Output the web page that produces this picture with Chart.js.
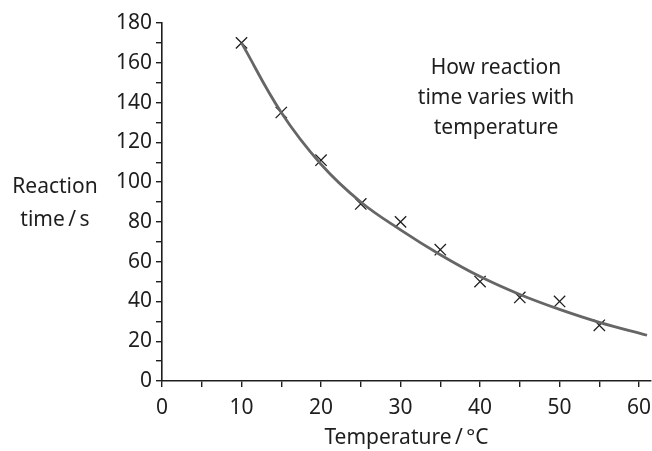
<!DOCTYPE html>
<html lang="en">
<head>
    <script src="https://cdn.jsdelivr.net/npm/chart.js"></script>
    <style>
        body { margin: 0; background: #fff; }
    </style>
</head>
<body>

    <canvas id="reactionChart" width="652" height="451"></canvas>

    <script>
        // measured points (x marks)
        const temps = [10, 15, 20, 25, 30, 35, 40, 45, 50, 55];
        const times = [170, 135, 111, 89, 80, 66, 50, 42, 40, 28];

        // best-fit curve
        const curveTemps = [10, 15, 20, 25, 30, 35, 40, 45, 50, 55, 61];
        const curveTimes = [170, 135, 109, 90, 76, 63.5, 52.5, 43.5, 36, 29.5, 23];

        // tick positions (labels only on every other one)
        const xTickValues = [0, 5, 10, 15, 20, 25, 30, 35, 40, 45, 50, 55, 60];
        const yTickValues = [0, 10, 20, 30, 40, 50, 60, 70, 80, 90, 100, 110, 120, 130, 140, 150, 160, 170, 180];

        const titleLines = ["How reaction", "time varies with", "temperature"];
        const yLabelLines = ["Reaction", "time\u2009/\u2009s"];
        const xLabel = "Temperature\u2009/\u2009°C";

        const FONT = "'Noto Sans', sans-serif";
        const INK = '#1e1e1e';

        // draws the in-plot caption and the horizontal y-axis label
        const textPlugin = {
            id: 'textPlugin',
            afterDraw(chart) {
                const c = chart.ctx;
                c.save();
                c.fillStyle = INK;
                c.font = "21px " + FONT;
                c.textAlign = 'center';
                c.textBaseline = 'middle';
                titleLines.forEach((t, i) => c.fillText(t, 496, 68 + i * 30));
                yLabelLines.forEach((t, i) => c.fillText(t, 55, 187 + i * 33));
                c.restore();
            }
        };

        const ctx = document.getElementById('reactionChart').getContext('2d');

        new Chart(ctx, {
            type: 'scatter',
            data: {
                datasets: [
                    {
                        label: 'curve',
                        type: 'line',
                        data: curveTemps.map((t, i) => ({ x: t, y: curveTimes[i] })),
                        borderColor: '#666',
                        borderWidth: 2.8,
                        pointRadius: 0,
                        tension: 0.4,
                        fill: false
                    },
                    {
                        label: 'measured',
                        data: temps.map((t, i) => ({ x: t, y: times[i] })),
                        pointStyle: 'crossRot',
                        pointRadius: 8,
                        borderColor: '#1e1e1e',
                        borderWidth: 1.3,
                        backgroundColor: '#1e1e1e'
                    }
                ]
            },
            options: {
                responsive: false,
                animation: false,
                maintainAspectRatio: false,
                layout: { autoPadding: false, padding: { top: 23, right: 1, bottom: 0, left: 0 } },
                plugins: {
                    legend: { display: false },
                    tooltip: { enabled: false }
                },
                scales: {
                    x: {
                        type: 'linear',
                        min: 0,
                        max: 61.5,
                        afterBuildTicks: s => { s.ticks = xTickValues.map(v => ({ value: v })); },
                        afterFit: s => { s.height = 70; s.paddingLeft = 0; s.paddingRight = 0; },
                        border: { color: INK, width: 1.6 },
                        grid: { drawOnChartArea: false, color: INK, lineWidth: 1.4, tickLength: 6 },
                        ticks: {
                            autoSkip: false,
                            maxRotation: 0,
                            padding: 8,
                            color: INK,
                            font: { family: FONT, size: 21 },
                            callback: v => (v % 10 === 0 ? v : '')
                        },
                        title: {
                            display: true,
                            text: xLabel,
                            color: INK,
                            font: { family: FONT, size: 21 },
                            padding: { top: 4, bottom: 0 }
                        }
                    },
                    y: {
                        min: 0,
                        max: 180,
                        afterBuildTicks: s => { s.ticks = yTickValues.map(v => ({ value: v })); },
                        afterFit: s => { s.width = 162; s.paddingTop = 0; s.paddingBottom = 0; },
                        border: { color: INK, width: 1.6 },
                        grid: { drawOnChartArea: false, color: INK, lineWidth: 1.4, tickLength: 6 },
                        ticks: {
                            autoSkip: false,
                            padding: 4,
                            color: INK,
                            font: { family: FONT, size: 21 },
                            callback: v => (v % 20 === 0 ? v : '')
                        }
                    }
                }
            },
            plugins: [textPlugin]
        });
    </script>

</body>
</html>
